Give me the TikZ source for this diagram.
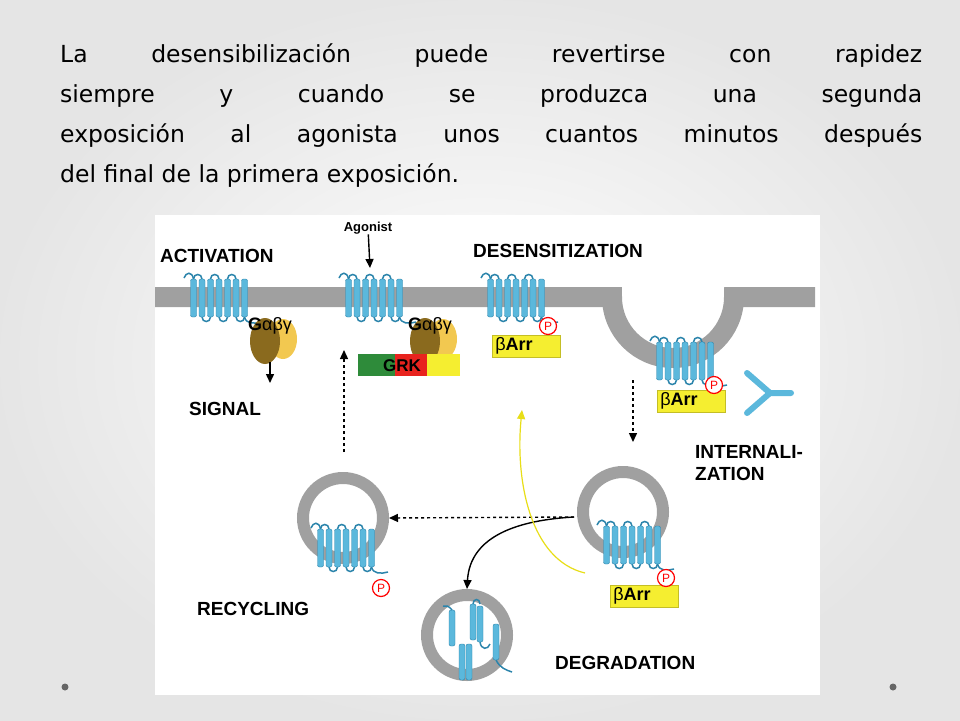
\documentclass[tikz,border=0pt]{standalone}
\usepackage{amsmath}
\usepackage{fontspec}
\setmainfont{Liberation Sans}
\newfontfamily\titlefont{DejaVu Sans}
\usetikzlibrary{arrows.meta,positioning}
\definecolor{rcp}{HTML}{5BB8DC}
\definecolor{rcpline}{HTML}{2B84AB}
\definecolor{memb}{HTML}{A0A0A0}
\definecolor{gdark}{HTML}{8A6A1E}
\definecolor{glight}{HTML}{F2C850}
\definecolor{arr}{HTML}{F5EE30}
\definecolor{grkg}{HTML}{2E8B3A}
\definecolor{grkr}{HTML}{E8231E}
\tikzset{
  lbl/.style={font=\bfseries\fontsize{19}{22}\selectfont, inner sep=0pt},
  arrbox/.style={fill=arr, draw=arr!80!black, minimum width=68pt, minimum height=22pt, inner sep=1pt},
  arrtext/.style={font=\fontsize{18}{18}\selectfont},
  phos/.style={circle, draw=red, fill=white, line width=1.2pt, minimum size=17pt, inner sep=0pt, font=\fontsize{12}{12}\selectfont\color{red}},
  vesicle/.style={circle, draw=memb, line width=12pt, minimum size=80pt},
  flow/.style={-{Triangle[length=9pt,width=8pt]}, line width=1.4pt},
  receptor/.pic={
    \foreach \k in {0,...,5} {
      \pgfmathsetmacro\xa{\k*8.5-25.5}
      \pgfmathsetmacro\xb{\xa+8.5}
      \ifodd\k
        \draw[rcpline, line width=1.5pt] (\xa,19) .. controls (\xa,25) and (\xb,25) .. (\xb,19);
      \else
        \draw[rcpline, line width=1.5pt] (\xa,-19) .. controls (\xa,-25) and (\xb,-25) .. (\xb,-19);
      \fi
    }
    \foreach \k in {0,...,6}
      \draw[rcpline, fill=rcp, rounded corners=2pt] (\k*8.5-25.5-3,-19) rectangle (\k*8.5-25.5+3,19);
    \draw[rcpline, line width=1.5pt] (-25.5,-19) .. controls (-27,-27) and (-33,-26) .. (-35,-20);
    \draw[rcpline, line width=1.5pt] (25.5,19) .. controls (27,26) and (35,26) .. (42,24);
  },
  helix/.pic={
    \draw[rcpline, fill=rcp, rounded corners=2pt] (-3,-18) rectangle (3,18);
  }
}
\begin{document}
\begin{tikzpicture}[x=1pt,y=-1pt]
\useasboundingbox (0,0) rectangle (960,720);
\shade[inner color=white, outer color=black!10] (0,0) rectangle (960,720);
\node[anchor=north west, text width=862pt, align=justify, inner sep=0pt,
  font=\titlefont\fontsize{23.5}{40}\selectfont] (title) at (60,44)
  {\hyphenpenalty=10000 La desensibilización puede revertirse con rapidez\linebreak siempre y cuando se produzca una segunda\linebreak exposición al agonista unos cuantos minutos después\linebreak del final de la primera exposición.};
\fill[black!60] (65,687) circle (3.5) (893,687) circle (3.5);
\fill[white] (155,215) rectangle (820,695);

% membrane with pit
\draw[memb, line width=20pt] (155,297) -- (612,297) arc (180:0:61) -- (815,297);

% receptors
\pic at (219,298) {receptor};
\pic at (374,298) {receptor};
\pic at (516,298) {receptor};
\pic at (685,361) {receptor};

% G proteins
\foreach \gx/\nm in {265/ga, 425/gb} {
  \fill[glight] (\gx+18,339) ellipse (14 and 20);
  \fill[gdark] (\gx,341) ellipse (15 and 23);
  \node[font=\fontsize{18}{18}\selectfont] (\nm) at (\gx+5,326) {\textbf{G}αβγ};
}

% GRK
\fill[grkg] (358,354) rectangle (395,376);
\fill[grkr] (395,354) rectangle (427,376);
\fill[arr] (427,354) rectangle (460,376);
\node[font=\bfseries\fontsize{17}{17}\selectfont] (grk) at (402,366) {GRK};

% arrestins
\node[arrbox] (arr1) at (526,346) {};
\node[arrtext, anchor=west] at (arr1.west) {β\textbf{Arr}};
\node[phos] (p1) at (548,326) {P};
\node[arrbox] (arr2) at (691,401) {};
\node[arrtext, anchor=west] at (arr2.west) {β\textbf{Arr}};
\node[phos] (p2) at (714,385) {P};

% internalised vesicle
\node[vesicle] (vint) at (623,512) {};
\pic at (632,545) {receptor};
\node[arrbox] (arr3) at (644,596) {};
\node[arrtext, anchor=west] at (arr3.west) {β\textbf{Arr}};
\node[phos] (p3) at (666,578) {P};

% Y shape
\draw[rcp, line width=6pt, line cap=round, line join=round] (747,373) -- (770,393) -- (747,413) (770,393) -- (791,393);

% recycling vesicle
\node[vesicle] (vrec) at (343,518) {};
\pic at (346,548) {receptor};
\node[phos] (p4) at (381,588) {P};

% degradation vesicle
\node[vesicle] (vdeg) at (467,635) {};
\pic at (452,628) {helix};
\pic at (473,622) {helix};
\pic at (480,624) {helix};
\pic at (496,642) {helix};
\pic at (462,662) {helix};
\pic at (469,662) {helix};
\draw[rcpline, line width=1.5pt] (452,610) .. controls (449,606) and (446,605) .. (443,606)
  (473,604) .. controls (473,598) and (480,598) .. (480,604)
  (480,642) .. controls (481,650) and (488,650) .. (490,644)
  (496,660) .. controls (500,668) and (506,670) .. (512,672);

% labels
\node[lbl, anchor=west] (act) at (160,256) {ACTIVATION};
\node[lbl, font=\bfseries\fontsize{13}{13}\selectfont] (ago) at (368,228) {Agonist};
\node[lbl, anchor=west] (des) at (473,251) {DESENSITIZATION};
\node[lbl, anchor=west] (sig) at (189,409) {SIGNAL};
\node[lbl, anchor=west, align=left] (intz) at (695,463) {INTERNALI-\\ZATION};
\node[lbl, anchor=west] (rec) at (197,609) {RECYCLING};
\node[lbl, anchor=west] (deg) at (555,663) {DEGRADATION};

% arrows
\coordinate (sigtop) at (270,362);
\coordinate (upend) at (344,350);
\coordinate (upstart) at (344,452);
\coordinate (pitbot) at (633,380);
\coordinate (split) at (574,517);
\draw[flow] (ago) -- (370,268);
\draw[flow] (sigtop) -- (270,383);
\draw[flow, dashed] (upstart) -- (upend);
\draw[flow, dashed] (pitbot) -- (633,442);
\draw[flow, dashed] (split) -- (vrec.east);
\draw[flow] (split) .. controls (520,520) and (470,535) .. (vdeg.north);
\draw[-{Triangle[length=9pt,width=8pt]}, yellow!90!black, line width=1.2pt] (585,573) .. controls (530,560) and (515,480) .. (522,410);
\end{tikzpicture}
\end{document}
